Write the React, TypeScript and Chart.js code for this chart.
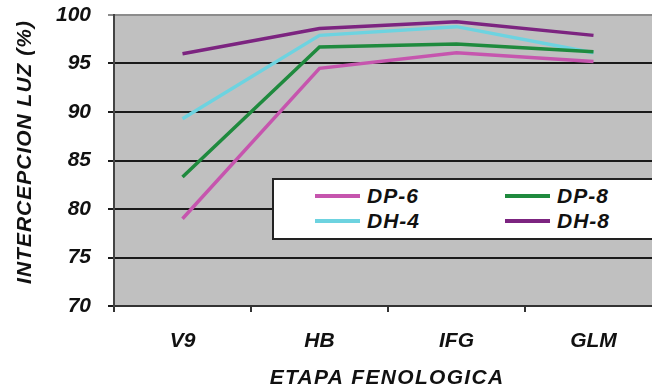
import React, { useEffect, useRef } from "react";
import { Chart, registerables } from "chart.js";

Chart.register(...registerables);

const categories = ["V9", "HB", "IFG", "GLM"];
const seriesNames = ["DP-6", "DP-8", "DH-4", "DH-8"];
const dp6 = [79.0, 94.5, 96.1, 95.2];
const dp8 = [83.3, 96.7, 97.0, 96.2];
const dh4 = [89.3, 97.9, 98.8, 96.1];
const dh8 = [96.0, 98.6, 99.3, 97.9];
const colors = ["#c655ae", "#1f8a3e", "#6dd3e0", "#7c2480"];
const yMin = 70;
const yMax = 100;
const yStep = 5;
const yTitle = "INTERCEPCION LUZ (%)";
const xTitle = "ETAPA FENOLOGICA";

const FONT = "'Liberation Sans', Arial, sans-serif";

const bgPlugin = {
  id: "plotBg",
  beforeDraw(chart: any) {
    const { ctx, chartArea } = chart;
    ctx.save();
    ctx.fillStyle = "#c0c0c0";
    ctx.fillRect(chartArea.left, chartArea.top, chartArea.right - chartArea.left, chartArea.bottom - chartArea.top);
    ctx.restore();
  },
};

const titlePlugin = {
  id: "axisTitles",
  afterDraw(chart: any) {
    const { ctx, chartArea } = chart;
    ctx.save();
    ctx.fillStyle = "#111";
    ctx.font = `italic bold 21px ${FONT}`;
    ctx.textAlign = "center";
    ctx.textBaseline = "middle";
    (ctx as any).letterSpacing = "1.3px";
    ctx.fillText(xTitle, (chartArea.left + chartArea.right) / 2 - 1, 378);
    (ctx as any).letterSpacing = "1px";
    ctx.translate(25, 152);
    ctx.rotate(-Math.PI / 2);
    ctx.fillText(yTitle, 0, 0);
    ctx.restore();
  },
};

export default function App() {
  const ref = useRef<HTMLCanvasElement | null>(null);

  useEffect(() => {
    if (!ref.current) return;
    const all = [dp6, dp8, dh4, dh8];
    const chart = new Chart(ref.current, {
      type: "line",
      data: {
        labels: categories,
        datasets: all.map((d, i) => ({
          label: seriesNames[i],
          data: d,
          borderColor: colors[i],
          backgroundColor: colors[i],
          borderWidth: 3.5,
          pointRadius: 0,
          tension: 0,
          fill: false,
        })),
      },
      options: {
        responsive: false,
        animation: false,
        layout: { padding: { left: 0, top: 15, right: 0, bottom: 0 } },
        plugins: { legend: { display: false }, tooltip: { enabled: false } },
        scales: {
          x: {
            offset: true,
            afterFit(scale: any) {
              scale.height = 86;
              scale.paddingLeft = 0;
              scale.paddingRight = 0;
            },
            grid: {
              display: true,
              drawOnChartArea: false,
              offset: true,
              tickLength: 6,
              color: "#333",
              lineWidth: 2,
            },
            border: { display: true, color: "#333", width: 2 },
            ticks: {
              padding: 17,
              color: "#111",
              font: { family: FONT, size: 21, weight: "bold", style: "italic" },
            },
          },
          y: {
            min: yMin,
            max: yMax,
            afterFit(scale: any) {
              scale.width = 114;
              scale.paddingTop = 0;
              scale.paddingBottom = 0;
            },
            grid: {
              color: (c: any) => (c.tick && c.tick.value === yMax ? "#8c8c8c" : "#1a1a1a"),
              lineWidth: 2,
              tickLength: 6,
            },
            border: { display: true, color: "#444", width: 2 },
            ticks: {
              stepSize: yStep,
              padding: 17,
              color: "#111",
              font: { family: FONT, size: 21, weight: "bold", style: "italic" },
            },
          },
        },
      },
      plugins: [bgPlugin, titlePlugin],
    } as any);
    return () => chart.destroy();
  }, []);

  const legendItem = (i: number, left: number, top: number) => (
    <div
      key={i}
      style={{ position: "absolute", left, top, display: "flex", alignItems: "center", height: 22 }}
    >
      <div style={{ width: 45, height: 4, background: colors[i], marginRight: 7 }} />
      <span
        style={{
          fontFamily: FONT,
          fontWeight: "bold",
          fontStyle: "italic",
          fontSize: 21,
          letterSpacing: "1px",
          color: "#111",
          lineHeight: "22px",
        }}
      >
        {seriesNames[i]}
      </span>
    </div>
  );

  return (
    <div style={{ position: "absolute", left: 0, top: 0, width: 652, height: 392, overflow: "hidden", background: "#fff" }}>
      <canvas ref={ref} width={662} height={392} style={{ position: "absolute", left: 0, top: 0, width: 662, height: 392 }} />
      <div
        style={{
          position: "absolute",
          left: 272,
          top: 178,
          width: 386,
          height: 62,
          background: "#fff",
          border: "2px solid #222",
          boxSizing: "border-box",
        }}
      />
      {legendItem(0, 315, 185)}
      {legendItem(1, 505, 185)}
      {legendItem(2, 315, 210)}
      {legendItem(3, 505, 210)}
    </div>
  );
}
